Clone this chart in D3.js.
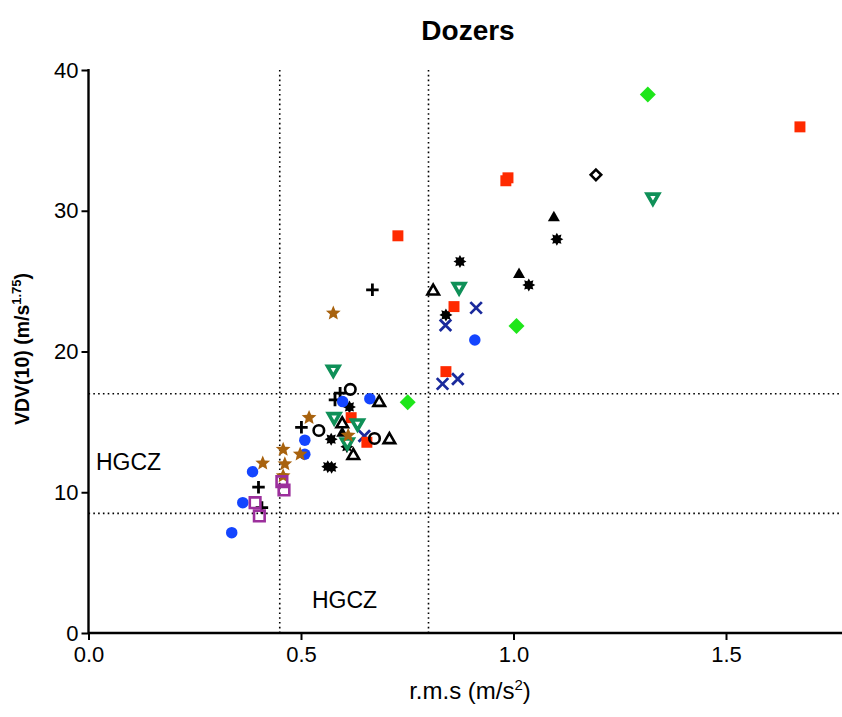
<!DOCTYPE html>
<html>
<head>
<meta charset="utf-8">
<script src="https://cdn.jsdelivr.net/npm/d3@7"></script>
<style>
  body { margin: 0; background: #fff; }
  text { font-family: "Liberation Sans", Arial, sans-serif; }
</style>
</head>
<body>
<svg id="chart" width="842" height="717"></svg>
<script>
'use strict';

// values: [rms, vdv]
const blueCircles = [[0.337, 7.13], [0.363, 9.26], [0.386, 11.46], [0.509, 12.70],
  [0.509, 13.70], [0.598, 16.44], [0.662, 16.65], [0.909, 20.82]];
const redSquares = [[1.674, 35.96], [0.987, 32.34], [0.982, 32.13], [0.728, 28.22],
  [0.860, 23.19], [0.841, 18.57], [0.618, 15.30], [0.655, 13.55]];
const blackTriangles = [[1.095, 29.55], [1.013, 25.52], [0.597, 14.24]];
const greenDiamonds = [[1.316, 38.26], [1.007, 21.82], [0.751, 16.40]];
const tealTriDown = [[1.328, 30.90], [0.872, 24.54], [0.576, 18.67], [0.578, 15.30],
  [0.633, 14.85], [0.609, 13.50]];
const navyCrosses = [[0.912, 23.10], [0.840, 21.87], [0.833, 17.70], [0.869, 18.05],
  [0.649, 14.00]];
const asterisks = [[1.102, 27.98], [1.036, 24.73], [0.874, 26.39], [0.841, 22.60],
  [0.614, 16.06], [0.571, 13.77], [0.608, 13.24], [0.563, 11.82], [0.572, 11.78]];
const plusses = [[0.668, 24.38], [0.592, 17.04], [0.580, 16.56], [0.501, 14.61],
  [0.400, 10.36], [0.408, 8.91]];
const openCircles = [[0.616, 17.31], [0.542, 14.39], [0.673, 13.82]];
const openTriangles = [[0.811, 24.33], [0.684, 16.42], [0.597, 14.90], [0.708, 13.77],
  [0.623, 12.65]];
const openDiamonds = [[1.194, 32.55]];
const brownStars = [[0.576, 22.72], [0.519, 15.30], [0.611, 14.04], [0.458, 13.04],
  [0.498, 12.70], [0.410, 12.06], [0.462, 12.01], [0.458, 11.16]];
const magentaSquares = [[0.455, 10.75], [0.460, 10.16], [0.392, 9.26], [0.402, 8.32]];

const xTicks = [0, 0.5, 1.0, 1.5];
const yTicks = [0, 10, 20, 30, 40];
const xLimits = [0.45, 0.8];
const yLimits = [8.5, 17];

const X0 = 88.5, X1 = 853.5, Y0 = 633, Y1 = 70;

let svg = d3.select('#chart');

let x = d3.scaleLinear().domain([0, 1.8]).range([X0, X1]);
let y = d3.scaleLinear().domain([0, 40]).range([Y0, Y1]);

// custom symbol shapes (size = width in px here)
function lineSym(segs) {
  return {
    draw: function(ctx, size) {
      let r = size / 2;
      segs.forEach(function(s) {
        ctx.moveTo(s[0] * r, s[1] * r);
        ctx.lineTo(s[2] * r, s[3] * r);
      });
    }
  };
}
const plusSym = lineSym([[-1, 0, 1, 0], [0, -1, 0, 1]]);
const timesSym = lineSym([[-1, -1, 1, 1], [-1, 1, 1, -1]]);

function polySym(n, inner, rot) {
  return {
    draw: function(ctx, size) {
      let r = size / 2;
      let pts = inner ? n * 2 : n;
      for (let i = 0; i < pts; i++) {
        let a = rot + i * 2 * Math.PI / pts;
        let rr = (inner && i % 2) ? r * inner : r;
        let px = rr * Math.sin(a), py = -rr * Math.cos(a);
        if (i === 0) ctx.moveTo(px, py); else ctx.lineTo(px, py);
      }
      ctx.closePath();
    }
  };
}
const circleSym = {
  draw: function(ctx, size) {
    let r = size / 2;
    ctx.moveTo(r, 0);
    ctx.arc(0, 0, r, 0, 2 * Math.PI);
  }
};
const squareSym = polySym(4, 0, Math.PI / 4);
const diamondSym = polySym(4, 0, 0);
const triUpSym = {
  draw: function(ctx, size) {
    let h = size * 0.866;
    ctx.moveTo(0, -h * 0.6);
    ctx.lineTo(size / 2, h * 0.4);
    ctx.lineTo(-size / 2, h * 0.4);
    ctx.closePath();
  }
};
const triDownSym = {
  draw: function(ctx, size) {
    let h = size * 0.866;
    ctx.moveTo(0, h * 0.6);
    ctx.lineTo(size / 2, -h * 0.4);
    ctx.lineTo(-size / 2, -h * 0.4);
    ctx.closePath();
  }
};
const starSym = polySym(5, 0.45, 0);
const gearSym = polySym(8, 0.62, 0);

// bottom to top
let series = [
  { data: navyCrosses, type: timesSym, size: 11.5, fill: 'none', stroke: '#1a2a9c', sw: 2.8 },
  { data: plusses, type: plusSym, size: 12.5, fill: 'none', stroke: '#000', sw: 2.8 },
  { data: asterisks, type: gearSym, size: 13, fill: '#000', stroke: 'none', sw: 0 },
  { data: blueCircles, type: circleSym, size: 11.5, fill: '#1445ff', stroke: 'none', sw: 0 },
  { data: redSquares, type: squareSym, size: 15.5, fill: '#ff2a00', stroke: 'none', sw: 0 },
  { data: blackTriangles, type: triUpSym, size: 12, fill: '#000', stroke: 'none', sw: 0 },
  { data: greenDiamonds, type: diamondSym, size: 16, fill: '#1ee61a', stroke: 'none', sw: 0 },
  { data: tealTriDown, type: triDownSym, size: 11.5, fill: '#fff', stroke: '#0f9058', sw: 3.6 },
  { data: openCircles, type: circleSym, size: 10.5, fill: 'none', stroke: '#000', sw: 2.6 },
  { data: openTriangles, type: triUpSym, size: 11.5, fill: 'none', stroke: '#000', sw: 2.6 },
  { data: openDiamonds, type: diamondSym, size: 10.5, fill: '#fff', stroke: '#000', sw: 2.6 },
  { data: brownStars, type: starSym, size: 15.5, fill: '#a8620e', stroke: 'none', sw: 0 },
  { data: magentaSquares, type: squareSym, size: 15, fill: 'none', stroke: '#9c2f9c', sw: 2.6 }
];

// reference limit lines
let lim = svg.append('g')
  .attr('stroke', '#000')
  .attr('stroke-width', 1.6)
  .attr('stroke-dasharray', '1.6,3.2');
lim.selectAll('.vlim')
  .data(xLimits)
  .enter().append('line')
    .attr('x1', function(d) { return x(d); })
    .attr('x2', function(d) { return x(d); })
    .attr('y1', y(40))
    .attr('y2', y(0));
lim.selectAll('.hlim')
  .data(yLimits)
  .enter().append('line')
    .attr('x1', x(0))
    .attr('x2', 842)
    .attr('y1', function(d) { return y(d); })
    .attr('y2', function(d) { return y(d); });

// points
series.forEach(function(s) {
  svg.append('g').selectAll('path')
    .data(s.data)
    .enter().append('path')
      .attr('transform', function(d) { return 'translate(' + x(d[0]) + ',' + y(d[1]) + ')'; })
      .attr('d', d3.symbol().type(s.type).size(s.size))
      .attr('fill', s.fill)
      .attr('stroke', s.stroke)
      .attr('stroke-width', s.sw)
      .attr('stroke-linejoin', 'miter');
});

// axes
let xAxis = svg.append('g')
  .attr('transform', 'translate(0,' + Y0 + ')')
  .call(d3.axisBottom(x).tickValues(xTicks).tickFormat(d3.format('.1f')).tickSize(7).tickPadding(6));
let yAxis = svg.append('g')
  .attr('transform', 'translate(' + X0 + ',0)')
  .call(d3.axisLeft(y).tickValues(yTicks).tickSize(7).tickPadding(3));

[xAxis, yAxis].forEach(function(a) {
  a.select('.domain').remove();
  a.selectAll('.tick line').attr('stroke-width', 2);
  a.selectAll('.tick text')
    .attr('font-size', 22)
    .attr('fill', '#000')
    .style('font-family', '"Liberation Sans", Arial, sans-serif');
});
svg.append('line')
  .attr('x1', X0).attr('x2', 842)
  .attr('y1', Y0).attr('y2', Y0)
  .attr('stroke', '#000').attr('stroke-width', 2.4);
svg.append('line')
  .attr('x1', X0).attr('x2', X0)
  .attr('y1', Y1 - 1).attr('y2', Y0 + 1)
  .attr('stroke', '#000').attr('stroke-width', 2.4);

// titles
svg.append('text')
  .attr('x', 468).attr('y', 40)
  .attr('text-anchor', 'middle')
  .attr('font-size', 28)
  .attr('font-weight', 'bold')
  .text('Dozers');

let xl = svg.append('text')
  .attr('x', 470).attr('y', 699)
  .attr('text-anchor', 'middle')
  .attr('font-size', 24);
xl.append('tspan').text('r.m.s (m/s');
xl.append('tspan').attr('font-size', 15).attr('dy', -9).text('2');
xl.append('tspan').attr('dy', 9).text(')');

let yl = svg.append('text')
  .attr('transform', 'translate(29,349) rotate(-90)')
  .attr('text-anchor', 'middle')
  .attr('font-size', 19.5)
  .attr('font-weight', 'bold');
yl.append('tspan').text('VDV(10) (m/s');
yl.append('tspan').attr('font-size', 13).attr('dy', -8).text('1.75');
yl.append('tspan').attr('dy', 8).text(')');

svg.append('text')
  .attr('x', 96).attr('y', 470)
  .attr('font-size', 23)
  .text('HGCZ');
svg.append('text')
  .attr('x', 312).attr('y', 608)
  .attr('font-size', 23)
  .text('HGCZ');
</script>
</body>
</html>
